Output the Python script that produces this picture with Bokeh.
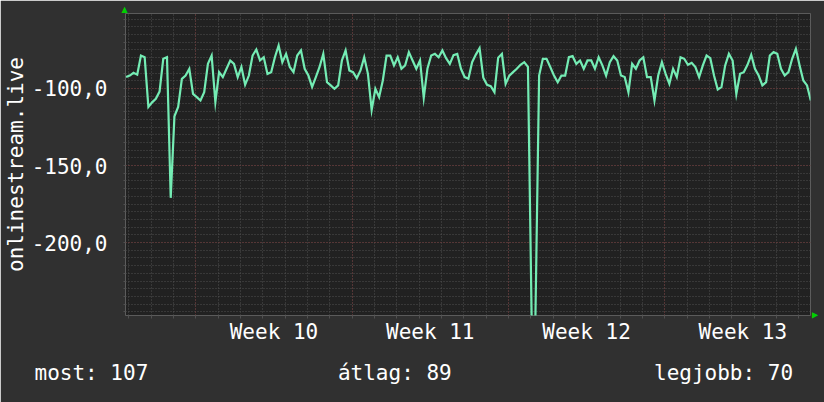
from bokeh.plotting import figure
from bokeh.models import FixedTicker, Grid, Range1d, Title
from bokeh.embed import file_html
from bokeh.resources import INLINE
import math

# ---------------- data ----------------
start_day = -3.125          # days relative to the start of Week 10
step_days = 4 / 24          # one sample every 4 hours
ping = [
    -92.6, -91.6, -89.8, -91.0, -78.6, -79.7, -112.0, -109.0, -106.7, -102.0,
    -80.7, -79.7, -171.0, -118.0, -112.0, -93.7, -91.6, -87.2, -103.5, -105.6,
    -107.8, -102.4, -84.0, -78.6, -108.9, -89.4, -92.6, -87.2, -81.8, -84.0,
    -92.6, -86.0, -97.6, -91.6, -78.6, -74.7, -81.8, -79.7, -90.5, -89.4,
    -79.7, -72.1, -82.9, -77.5, -86.0, -89.4, -78.6, -75.3, -87.2, -91.6,
    -99.0, -92.6, -86.0, -77.5, -95.9, -98.0, -100.2, -98.0, -81.8, -75.3,
    -88.3, -89.4, -93.3, -88.3, -79.7, -90.5, -114.0, -100.2, -105.6, -94.8,
    -78.6, -78.6, -85.0, -79.7, -87.2, -85.0, -76.4, -81.8, -87.2, -81.8,
    -106.0, -87.0, -78.6, -77.5, -79.7, -75.3, -80.3, -84.0, -78.3, -77.5,
    -87.2, -92.6, -93.7, -82.9, -78.0, -73.8, -93.0, -97.6, -98.5, -102.4,
    -80.0, -77.5, -97.0, -91.6, -89.4, -87.2, -84.6, -82.9, -86.0, -250.0,
    -250.0, -91.6, -80.7, -80.7, -86.0, -91.6, -96.0, -91.6, -91.6, -79.7,
    -79.0, -84.0, -81.8, -87.2, -81.8, -81.8, -87.2, -79.7, -85.0, -91.6,
    -82.9, -79.0, -81.8, -91.6, -92.6, -102.4, -84.0, -87.2, -81.8, -79.7,
    -92.6, -92.6, -107.8, -91.6, -82.9, -90.5, -97.0, -87.2, -92.6, -79.7,
    -80.7, -84.6, -83.3, -86.1, -92.6, -85.0, -78.6, -80.3, -91.6, -100.6,
    -99.1, -85.0, -77.5, -81.8, -103.5, -90.5, -89.4, -84.6, -78.1, -87.2,
    -91.6, -98.0, -95.9, -78.6, -76.4, -77.5, -87.2, -91.6, -89.4, -80.7,
    -74.2, -85.0, -94.8, -98.0, -107.8,
]
week_numbers = [10, 11, 12, 13]
week_starts = [0, 7, 14, 21]
y_tick_values = [-200, -150, -100]
y_tick_labels = ["-200,0", "-150,0", "-100,0"]
y_axis_title = "onlinestream.live"
legend_texts = ["most: 107", "átlag: 89", "legjobb: 70"]

x_start, x_end = -3.15, 27.53
y_start, y_end = -247.4, -51.3

# ---------------- style ----------------
BG = "#303030"
FRAME = "#212121"
LINE = "#74ecb4"
MINOR = "#505050"
MAJOR = "#733535"
ARROW = "#00d000"
TXT = "#ffffff"
FONT = "DejaVu Sans Mono"
FS = "21px"

x = [start_day + i * step_days for i in range(len(ping))]

p = figure(width=824, height=402, output_backend="svg", toolbar_location=None,
           x_range=Range1d(x_start, x_end), y_range=Range1d(y_start, y_end),
           min_border_left=124, min_border_right=14, min_border_top=13, min_border_bottom=87,
           background_fill_color=FRAME, border_fill_color=BG, outline_line_color=None)

p.grid.visible = False

day_ticks = list(range(math.ceil(x_start), math.floor(x_end) + 1))
minor_y = list(range(-245, -50, 5))

p.add_layout(Grid(dimension=0, ticker=FixedTicker(ticks=day_ticks),
                  grid_line_color=MINOR, grid_line_dash="1 2", grid_line_width=1))
p.add_layout(Grid(dimension=1, ticker=FixedTicker(ticks=minor_y),
                  grid_line_color=MINOR, grid_line_dash="1 2", grid_line_width=1))
p.add_layout(Grid(dimension=0, ticker=FixedTicker(ticks=week_starts),
                  grid_line_color=MAJOR, grid_line_dash="1 2", grid_line_width=1))
p.add_layout(Grid(dimension=1, ticker=FixedTicker(ticks=y_tick_values),
                  grid_line_color=MAJOR, grid_line_dash="1 2", grid_line_width=1))

# x axis: week labels centred in each week
label_pos = [w + 3.5 for w in week_starts]
xa = p.xaxis[0]
xa.ticker = FixedTicker(ticks=label_pos, minor_ticks=day_ticks)
xa.major_label_overrides = {pos: f"Week {n}" for pos, n in zip(label_pos, week_numbers)}
xa.major_tick_out = 0
xa.major_tick_in = 0
xa.minor_tick_out = 3
xa.minor_tick_in = 0
xa.minor_tick_line_color = MINOR
xa.axis_line_color = None
xa.major_label_standoff = 1
xa.major_label_text_font = FONT
xa.major_label_text_font_size = FS
xa.major_label_text_color = TXT

ya = p.yaxis[0]
ya.ticker = FixedTicker(ticks=y_tick_values, minor_ticks=minor_y)
ya.major_label_overrides = {v: t for v, t in zip(y_tick_values, y_tick_labels)}
ya.major_tick_out = 0
ya.major_tick_in = 0
ya.minor_tick_out = 2
ya.minor_tick_in = 0
ya.minor_tick_line_color = MINOR
ya.axis_line_color = None
ya.major_label_standoff = 16
ya.major_label_text_font = FONT
ya.major_label_text_font_size = FS
ya.major_label_text_color = TXT
ya.axis_label = y_axis_title
ya.axis_label_text_font = FONT
ya.axis_label_text_font_size = FS
ya.axis_label_text_font_style = "normal"
ya.axis_label_text_color = TXT
ya.axis_label_standoff = 1

p.line(x, ping, line_color=LINE, line_width=2.2, line_join="miter")

# legend line below the chart (monospace columns, padded with no-break spaces)
NB = "\u00a0"
legend_line = legend_texts[0] + NB * 15 + legend_texts[1] + NB * 16 + legend_texts[2]
p.add_layout(Title(text=legend_line, align="left", offset=-91, standoff=24,
                   text_font=FONT, text_font_size=FS, text_font_style="normal",
                   text_color=TXT, background_fill_color=None), "below")

# small green axis arrows
p.add_layout(Title(text="\u25b2", align="left", offset=-4, standoff=0,
                   text_font="DejaVu Sans", text_font_size="8px", text_font_style="normal",
                   text_color=ARROW), "above")
p.add_layout(Title(text="\u25b2", align="right", offset=-3, standoff=1,
                   text_font="DejaVu Sans", text_font_size="8px", text_font_style="normal",
                   text_color=ARROW), "right")

open("out.html", "w").write(file_html(p, INLINE))
